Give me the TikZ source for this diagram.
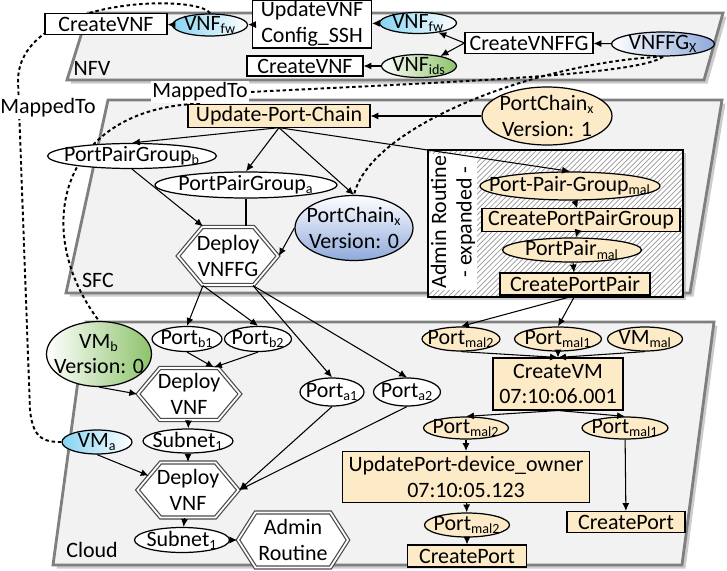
\documentclass[tikz,border=0pt]{standalone}
\usepackage{fontspec}
\setmainfont{Carlito}
\usetikzlibrary{shapes.geometric,shapes.symbols,patterns,shadows,calc,arrows.meta}

\definecolor{cream}{HTML}{FDEBC8}
\definecolor{tiergray}{HTML}{F2F2F2}
\definecolor{tieredge}{HTML}{7F7F7F}
\definecolor{fwblue}{HTML}{86D3F2}
\definecolor{fgblue}{HTML}{8EA9DB}
\definecolor{idsgreen}{HTML}{8DC36B}

\newcommand{\low}[1]{\textsubscript{\fontsize{8}{9}\selectfont #1}}

\pgfdeclarelayer{background}
\pgfsetlayers{background,main}

\tikzset{
  tier/.style={fill=tiergray, draw=tieredge, line width=1.6pt,
    drop shadow={shadow xshift=2pt, shadow yshift=-2pt, fill=black!40}},
  box/.style={rectangle, draw, fill=white, inner sep=1pt, align=center},
  mbox/.style={box, fill=cream},
  oval/.style={ellipse, draw, line width=0.7pt, fill=white, inner sep=0pt},
  moval/.style={oval, fill=cream},
  hexa/.style={signal, signal to=east and west, signal pointer angle=100,
    draw=black!70, line width=0.7pt, double=white, double distance=1pt,
    fill=white, inner sep=0pt},
  mapline/.style={line width=1.1pt, dash pattern=on 2pt off 1.6pt},
  maptag/.style={fill=white, inner sep=1pt}
}

\begin{document}
\begin{tikzpicture}[x=0.02cm, y=-0.02cm, line width=0.6pt,
  font=\fontsize{12.5}{14.5}\selectfont, >={Latex[length=4.5pt,width=4pt]}]
\useasboundingbox (0,0) rectangle (727,571);

% NFV
\node[box, minimum width=2.44cm, minimum height=0.42cm] (cvnfA) at (106,24) {CreateVNF};
\node[oval, minimum width=1.5cm, minimum height=0.44cm, left color=fwblue, right color=white,
  label=center:VNF\low{fw}] (fwA) at (210,25) {};
\node[box, minimum width=2.38cm, minimum height=0.92cm] (updvnf) at (312,24) {UpdateVNF\\Config\_SSH};
\node[oval, minimum width=1.54cm, minimum height=0.42cm, left color=fwblue, right color=white,
  label=center:VNF\low{fw}] (fwB) at (418,23) {};
\node[box, minimum width=2.56cm, minimum height=0.42cm] (cvnffg) at (529,43) {CreateVNFFG};
\node[oval, minimum width=2.06cm, minimum height=0.48cm, left color=white, right color=fgblue,
  label=center:VNFFG\low{X}] (vnffg) at (663,44) {};
\node[box, minimum width=2.32cm, minimum height=0.4cm] (cvnfB) at (305,66) {CreateVNF};
\node[oval, minimum width=1.5cm, minimum height=0.46cm, left color=white, right color=idsgreen,
  label=center:VNF\low{ids}] (ids) at (419,66) {};
\node (nfvlbl) at (92,68) {NFV};
\node[maptag] (mapA) at (48,108) {MappedTo};
\node[maptag] (mapB) at (200,92) {MappedTo};

% SFC
\node[mbox, minimum width=3.64cm, minimum height=0.42cm] (upc) at (279,116) {Update-Port-Chain};
\node[moval, minimum width=2.6cm, minimum height=1.16cm,
  label={[align=center]center:{PortChain\low{x}\\Version: 1}}] (pc1) at (547,116) {};
\node[oval, minimum width=3.38cm, minimum height=0.5cm,
  label=center:PortPairGroup\low{b}] (ppgb) at (132,156) {};
\node[oval, minimum width=3.64cm, minimum height=0.52cm,
  label=center:PortPairGroup\low{a}] (ppga) at (246,185) {};
\node[oval, minimum width=2.36cm, minimum height=1.3cm, top color=white, bottom color=fgblue,
  label={[align=center]center:{PortChain\low{x}\\Version: 0}}] (pc0) at (354,228) {};
\node[hexa, minimum width=2cm, minimum height=1.16cm,
  label={[align=center]center:{Deploy\\VNFFG}}] (dvnffg) at (228,256) {};
\node (sfclbl) at (98,280) {SFC};

% admin routine, expanded
\draw[fill=white, drop shadow={shadow xshift=1.5pt, shadow yshift=-1.5pt, fill=black!40}]
  (428,150) rectangle (683,297);
\fill[pattern=north east lines, pattern color=black!40] (428,150) rectangle (683,297);
\draw (428,150) rectangle (683,297);
\node[rotate=90, align=center, fill=white, inner sep=1pt] (admtxt) at (453,222)
  {Admin Routine\\- expanded -};
\node[moval, minimum width=3.6cm, minimum height=0.56cm,
  label=center:Port-Pair-Group\low{mal}] (ppgm) at (570,186) {};
\node[mbox, minimum width=3.96cm, minimum height=0.4cm] (cppg) at (581,220) {CreatePortPairGroup};
\node[moval, minimum width=2.78cm, minimum height=0.48cm,
  label=center:PortPair\low{mal}] (ppm) at (572,250) {};
\node[mbox, minimum width=3cm, minimum height=0.44cm] (cpp) at (575,284) {CreatePortPair};

% Cloud
\node[oval, minimum width=2.1cm, minimum height=1.3cm, left color=white, right color=idsgreen,
  label={[align=center]center:{VM\low{b}\\Version: 0}}] (vmb) at (99,354) {};
\node[oval, minimum width=1.4cm, minimum height=0.5cm,
  label=center:Port\low{b1}] (pb1) at (187,339) {};
\node[oval, minimum width=1.34cm, minimum height=0.5cm,
  label=center:Port\low{b2}] (pb2) at (258,339) {};
\node[hexa, minimum width=2.04cm, minimum height=1.04cm,
  label={[align=center]center:{Deploy\\VNF}}] (dvnfA) at (189,394) {};
\node[oval, minimum width=1.8cm, minimum height=0.48cm,
  label=center:Subnet\low{1}] (snA) at (188,441) {};
\node[oval, minimum width=1.4cm, minimum height=0.48cm, left color=fwblue, right color=white,
  label=center:VM\low{a}] (vma) at (97,442) {};
\node[hexa, minimum width=2.02cm, minimum height=1.1cm,
  label={[align=center]center:{Deploy\\VNF}}] (dvnfB) at (188,490) {};
\node[oval, minimum width=1.9cm, minimum height=0.5cm,
  label=center:Subnet\low{1}] (snB) at (182,540) {};
\node[hexa, signal pointer angle=115, minimum width=2.2cm, minimum height=1.1cm,
  label={[align=center]center:{Admin\\Routine}}] (admr) at (293,540) {};
\node[oval, minimum width=1.28cm, minimum height=0.56cm,
  label=center:Port\low{a1}] (pa1) at (332,392) {};
\node[oval, minimum width=1.34cm, minimum height=0.56cm,
  label=center:Port\low{a2}] (pa2) at (407,392) {};
\node[moval, minimum width=1.56cm, minimum height=0.48cm,
  label=center:Port\low{mal2}] (pm2A) at (461,339) {};
\node[moval, minimum width=1.74cm, minimum height=0.48cm,
  label=center:Port\low{mal1}] (pm1A) at (558,339) {};
\node[moval, minimum width=1.5cm, minimum height=0.48cm,
  label=center:VM\low{mal}] (vmm) at (645,339) {};
\node[mbox, minimum width=2.6cm, minimum height=1.04cm] (cvm) at (558,384) {CreateVM\\07:10:06.001};
\node[moval, minimum width=1.7cm, minimum height=0.44cm,
  label=center:Port\low{mal2}] (pm2B) at (466,428) {};
\node[moval, minimum width=1.72cm, minimum height=0.44cm,
  label=center:Port\low{mal1}] (pm1B) at (625,428) {};
\node[mbox, minimum width=4.94cm, minimum height=1.02cm] (upd) at (466,477)
  {UpdatePort-device\_owner\\07:10:05.123};
\node[moval, minimum width=1.7cm, minimum height=0.48cm,
  label=center:Port\low{mal2}] (pm2C) at (467,525) {};
\node[mbox, minimum width=2.38cm, minimum height=0.44cm] (cpA) at (467,556) {CreatePort};
\node[mbox, minimum width=2.36cm, minimum height=0.42cm] (cpB) at (626,522) {CreatePort};
\node (cloudlbl) at (92,550) {Cloud};

% NFV flows
\draw[->] (vnffg) -- (cvnffg);
\draw[->] (cvnffg.west) -- (fwB.-25);
\draw[->] (cvnffg.west) -- (ids.25);
\draw[->] (fwB) -- (updvnf);
\draw[->] (updvnf) -- (fwA);
\draw[->] (fwA) -- (cvnfA);
\draw[->] (ids) -- (cvnfB);

% SFC flows
\draw[->] (pc1) -- (upc);
\draw[->] (upc.south) -- (ppgb.north);
\draw[->] (upc.south) -- (ppga.north);
\draw[->] (upc.south) -- (pc0.north);
\draw[->] (upc.south) -- (ppgm.north);
\draw[->] (ppgb.south) -- ($(dvnffg.north)+(-25,0)$);
\draw (ppga.south) -- (ppga.south |- dvnffg.north);
\draw[->] (pc0.west) -- (dvnffg.east);
\draw[->] (ppgm) -- (cppg);
\draw[->] (cppg) -- (ppm);
\draw[->] (ppm) -- (cpp);

% Cloud flows
\draw[->] ($(dvnffg.south)+(-25,0)$) -- (pb1.north);
\draw[->] ($(dvnffg.south)+(-25,0)$) -- (pb2.north);
\draw[->] ($(dvnffg.south)+(25,0)$) -- (pa1.north);
\draw[->] ($(dvnffg.south)+(25,0)$) -- (pa2.north);
\draw[->] (pb1.south) -- ($(dvnfA.north)+(25,0)$);
\draw[->] (pb2.south) -- ($(dvnfA.north)+(25,0)$);
\draw[->] (vmb.south) -- (dvnfA.west);
\draw[->] (dvnfA) -- (snA);
\draw[->] (snA) -- (dvnfB);
\draw[->] (vma.south) -- (dvnfB.160);
\draw[->] (pa1.south) -- (dvnfB.east);
\draw[->] (pa2.south) -- (dvnfB.east);
\draw[->] (dvnfB) -- (snB);
\draw[->] (snB) -- (admr);
\draw[->] (cpp.south) -- (pm2A.north);
\draw[->] (cpp.south) -- (pm1A.north);
\draw[->] (pm2A.south) -- (cvm.north);
\draw[->] (pm1A.south) -- (cvm.north);
\draw[->] (vmm.south) -- (cvm.north);
\draw[->] (cvm.south) -- (pm2B.north);
\draw[->] (cvm.south) -- (pm1B.north);
\draw[->] (pm2B) -- (upd);
\draw[->] (upd) -- (pm2C);
\draw[->] (pm2C) -- (cpA);
\draw[->] (pm1B) -- (cpB);

\begin{pgfonlayer}{background}
  \path[tier] (88,13) -- (723,13) -- (704,80) -- (67,80) -- cycle;
  \path[tier] (108,100) -- (722,100) -- (690,293) -- (66,293) -- cycle;
  \path[tier] (86,322) -- (714,322) -- (682,565) -- (53,565) -- cycle;
  % mapped-to links
  \draw[mapline] (fwA.north) .. controls (200,-6) and (20,-4) .. (18,80)
    -- (30,410) .. controls (33,440) and (45,442) .. (vma.west);
  \draw[mapline] (vnffg.south) .. controls (640,75) and (450,82) .. (mapB.east);
  \draw[mapline] (mapB.south) .. controls (60,108) and (30,230) .. (vmb.north);
  \draw[mapline] (vnffg.south) .. controls (540,62) and (370,125) .. (pc0.north);
\end{pgfonlayer}
\end{tikzpicture}
\end{document}
